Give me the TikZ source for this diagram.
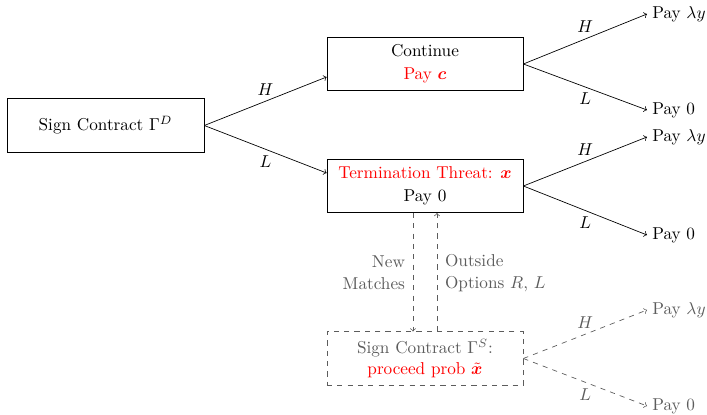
\documentclass[tikz,border=0pt]{standalone}
\usepackage{bm}
\usetikzlibrary{calc}
\definecolor{dim}{gray}{0.36}
\begin{document}
\begin{tikzpicture}[x=0.5814pt,y=-0.5814pt,
  stage/.style={draw, rectangle, minimum width=114pt, minimum height=31pt,
                align=center, inner sep=2pt},
  latent/.style={stage, dashed, draw=dim, text=dim},
  flow/.style={->},
  dflow/.style={->, dashed, draw=dim},
  payoff/.style={anchor=west, inner sep=2.9pt},
  dpayoff/.style={payoff, text=dim},
  up/.style={midway, above},
  down/.style={midway, below},
  dup/.style={up, text=dim},
  ddown/.style={down, text=dim}]
\useasboundingbox (0,0) rectangle (707,415);

% decision stages
\node[stage, minimum width=114.5pt] (dm) at (105.5,125.5) {Sign Contract $\Gamma^D$};
\node[stage] (cont) at (425,64) {Continue\\[1.5pt]\textcolor{red}{Pay $\bm{c}$}};
\node[stage] (term) at (425,186) {\textcolor{red}{Termination Threat: $\bm{x}$}\\[1.5pt]Pay 0};
\node[latent] (sm) at (425,358.5) {Sign Contract $\Gamma^S$:\\[0.5pt]\textcolor{red}{proceed prob $\tilde{\bm{x}}$}};

% payoffs
\node[payoff] (c1) at (647,14) {Pay $\lambda y$};
\node[payoff] (c2) at (647,110) {Pay 0};
\node[payoff] (t1) at (647,137) {Pay $\lambda y$};
\node[payoff] (t2) at (647,235) {Pay 0};
\node[dpayoff] (s1) at (647,310) {Pay $\lambda y$};
\node[dpayoff] (s2) at (647,406) {Pay 0};

% first branching
\draw[flow] (dm.east) -- node[up] {$H$} ($(cont.west)+(0,13)$);
\draw[flow] (dm.east) -- node[down] {$L$} ($(term.west)+(0,-13)$);

% outcomes of each stage
\draw[flow] (cont.east) -- node[up] {$H$} (c1.west);
\draw[flow] (cont.east) -- node[down] {$L$} (c2.west);
\draw[flow] (term.east) -- node[up] {$H$} (t1.west);
\draw[flow] (term.east) -- node[down] {$L$} (t2.west);
\draw[dflow] (sm.east) -- node[dup] {$H$} (s1.west);
\draw[dflow] (sm.east) -- node[ddown] {$L$} (s2.west);

% links between the threat and the outside market
\draw[dflow] ($(term.south)+(-12,0)$) -- ($(sm.north)+(-12,0)$);
\draw[dflow] ($(sm.north)+(12,0)$) -- ($(term.south)+(12,0)$);
\node[anchor=east, align=right, inner sep=1pt, text=dim] (nm) at (407,273) {New\\[1pt]Matches};
\node[anchor=west, align=left, inner sep=1pt, text=dim] (oo) at (443,273) {Outside\\[1pt]Options $R$, $L$};
\end{tikzpicture}
\end{document}
